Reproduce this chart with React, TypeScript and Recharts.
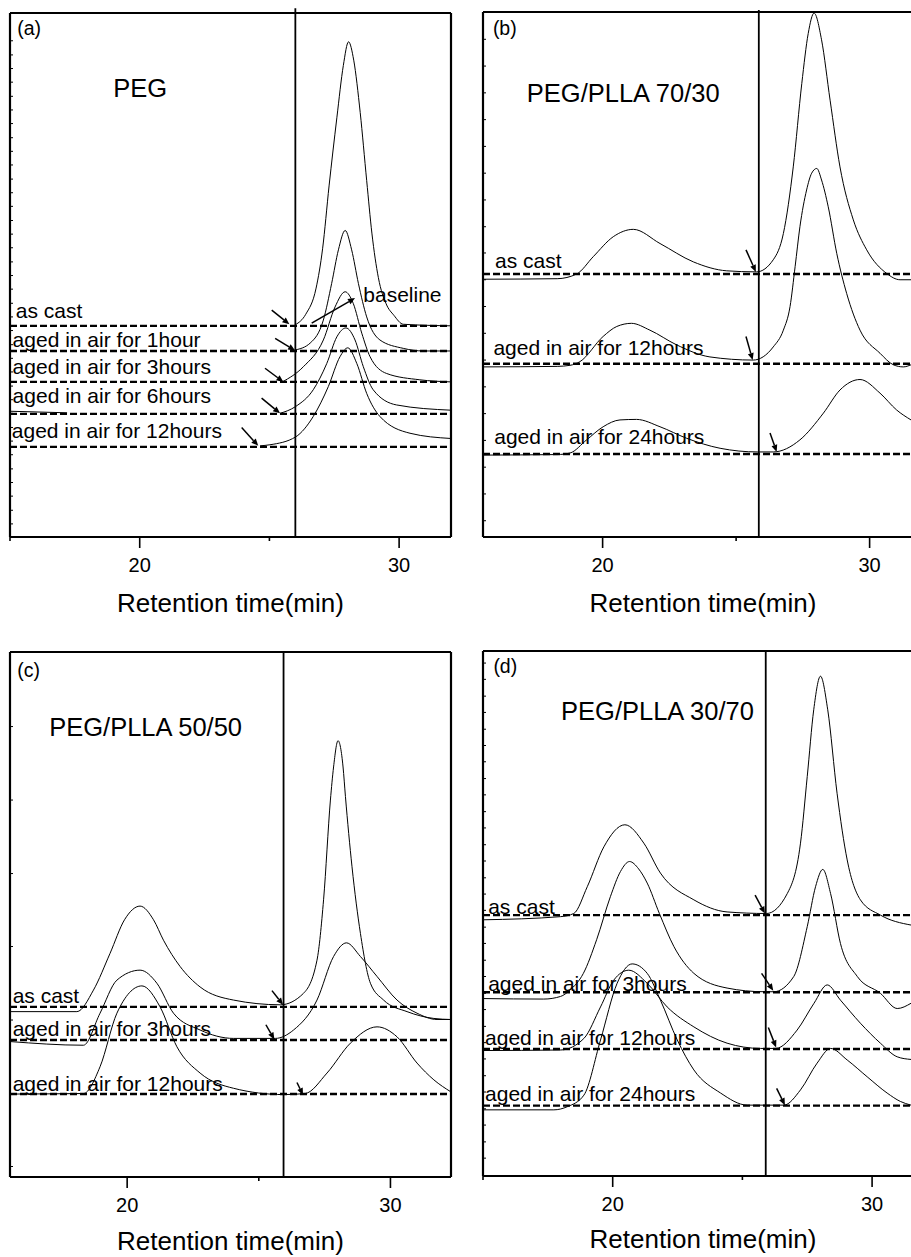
import React from 'react';
import { LineChart, Line, XAxis, YAxis, ReferenceLine, ReferenceDot } from 'recharts';

const FONT = '"Liberation Sans", Arial, Helvetica, sans-serif';

// ---------- Panel (a) PEG ----------
const aAsCast = [[26.0,40.5],[26.4,42.5],[26.8,47.5],[27.05,55],[27.3,67],[27.6,80],[27.85,90],[28.05,94.5],[28.25,91],[28.5,81],[28.75,68],[28.95,58],[29.2,49.5],[29.5,44.5],[29.8,42.3],[30.16,40.6],[32,40.3]];
const aOneHour = [[26.0,35.7],[26.57,37.0],[27.08,41.4],[27.4,48.4],[27.66,54.8],[27.92,58.5],[28.17,54.8],[28.43,48.4],[28.75,42.0],[29.26,37.6],[30.16,36.0],[30.93,35.5],[32,35.5]];
const aThreeHours = [[25.5,29.6],[26.31,32.5],[27.08,37.6],[27.53,43.9],[27.92,46.8],[28.23,44.6],[28.56,38.9],[28.88,34.4],[29.52,31.2],[30.8,30.0],[32,29.6]];
const aSixHours = [[25.41,23.6],[26.01,24.9],[26.69,28.1],[27.21,33.1],[27.6,38.2],[27.95,39.9],[28.3,37.6],[28.62,32.5],[29.0,28.1],[29.9,25.2],[32,24.2]];
const aSixHoursStart = [[15,24.0],[17.2,23.7]];
const aTwelveHours = [[24.64,17.4],[25.02,17.6],[26.01,19.1],[26.69,23.0],[27.27,28.7],[27.72,34.4],[28.02,36.1],[28.37,33.1],[28.75,27.4],[29.26,23.0],[30.42,19.8],[32,18.8]];
const aBaselines = [40.3, 35.5, 29.6, 23.5, 17.2];
const aArrows = [[25.09,43.3,25.77,40.6],[25.22,37.9,25.99,35.6],[24.83,32.2,25.54,29.6],[24.7,26.5,25.41,23.6],[23.93,20.9,24.57,17.4],[26.63,40.8,28.3,45.6]];
const aLabels: [number, number, string][] = [[15.22,41.8,'as cast'],[15.1,36.3,'aged in air for 1hour'],[15.1,31.1,'aged in air for 3hours'],[15.1,25.6,'aged in air for 6hours'],[15.07,18.8,'aged in air for 12hours'],[28.62,44.9,'baseline']];
const aTag: [number, number, string] = [15.28,95.8,'(a)'];
const aName: [number, number, string] = [18.98,84.0,'PEG'];
const aYTicks = [2.5,5.1,7.8,10.4,13.0,15.7,18.3,20.9,23.6,26.2,28.8,31.5,34.1,36.7,39.4,42.0,44.6,47.3,49.9,52.5,55.2,57.8,60.4,63.1,65.7,68.3,71.0,73.6,76.2,78.9,81.5,84.1,86.8,89.4,92.0,94.7];

// ---------- Panel (b) PEG/PLLA 70/30 ----------
const bAsCast = [[15.52,49.1],[18.3,49.2],[19.03,50.1],[19.65,53.4],[20.4,57.2],[21.15,58.6],[22.15,55.9],[23.4,52.4],[24.65,50.7],[25.77,50.5],[26.39,52.8],[26.77,57.8],[27.14,70.5],[27.46,86.4],[27.7,95.9],[27.92,99.8],[28.2,94.7],[28.52,83.2],[28.89,70.5],[29.39,60.4],[29.89,54.7],[30.64,50.2],[31.14,49.0],[31.55,49.0]];
const bTwelveHours = [[15.52,32.4],[18.3,32.5],[18.78,32.7],[19.15,33.4],[20.02,38.2],[20.53,40.1],[21.08,40.7],[21.77,39.4],[22.77,36.6],[24.02,34.3],[25.64,33.7],[26.39,36.2],[26.77,39.4],[27.02,43.9],[27.21,51.5],[27.39,59.1],[27.64,66.1],[27.83,69.3],[28.02,70.2],[28.2,68.0],[28.45,62.9],[28.77,54.0],[29.14,46.4],[29.64,39.4],[30.39,35.0],[30.89,32.8],[31.26,32.4],[31.55,32.8]];
const bTwentyFourHours = [[15.52,15.6],[18.3,15.7],[18.78,16.0],[19.4,18.5],[20.02,21.0],[20.65,22.3],[21.27,22.4],[22.15,21.0],[23.15,18.8],[24.4,16.9],[25.81,16.2],[26.39,16.2],[27.39,18.5],[28.27,23.6],[28.89,28.0],[29.64,30.0],[30.39,27.4],[31.01,24.2],[31.55,22.3]];
const bBaselines = [50.1, 33.0, 15.8];
const bArrows = [[25.37,54.7,25.74,50.5],[25.37,38.2,25.62,33.7],[26.27,19.8,26.52,16.2]];
const bLabels: [number, number, string][] = [[15.97,51.2,'as cast'],[15.91,34.7,'aged in air for 12hours'],[15.94,17.8,'aged in air for 24hours']];
const bTag: [number, number, string] = [15.89,95.6,'(b)'];
const bName: [number, number, string] = [17.16,82.9,'PEG/PLLA 70/30'];
const bYTicks = [3.1,8.2,13.3,18.4,23.5,28.6,33.7,38.8,43.9,49.0,54.1,59.1,64.2,69.3,74.4,79.5,84.6,89.7,94.8];

// ---------- Panel (c) PEG/PLLA 50/50 ----------
const cAsCast = [[15.55,31.5],[18.09,31.5],[18.72,35.6],[19.35,42.6],[19.9,49.0],[20.49,51.6],[21.0,49.0],[21.38,45.1],[22.01,40.1],[22.77,36.2],[24.04,33.7],[25.82,32.8],[26.7,35.0],[27.21,41.3],[27.46,52.8],[27.72,71.8],[27.84,78.1],[28.01,83.1],[28.2,78.1],[28.29,72.5],[28.54,59.1],[28.86,46.4],[29.24,36.9],[29.74,33.7],[30.63,31.5],[31.65,30.2],[32.3,30.0]];
const cThreeHours = [[15.55,25.8],[18.34,25.1],[18.97,31.2],[19.61,37.5],[20.49,39.4],[21.13,36.9],[21.76,31.2],[22.77,28.0],[24.04,26.4],[25.63,26.4],[26.32,28.0],[27.21,33.7],[27.84,42.0],[28.33,44.6],[28.86,42.0],[29.49,38.2],[30.25,33.7],[31.01,31.2],[31.77,30.0],[32.3,30.0]];
const cTwelveHours = [[15.55,15.8],[18.34,15.9],[18.97,21.0],[19.61,31.2],[20.56,36.4],[21.25,32.4],[21.89,24.8],[22.77,19.8],[24.04,16.9],[25.94,15.7],[26.76,15.9],[27.59,19.8],[28.48,25.5],[29.49,28.6],[30.25,26.7],[31.01,21.7],[31.65,18.5],[32.3,16.2]];
const cBaselines = [32.4, 26.1, 15.8];
const cArrows = [[25.5,35.5,25.92,32.8],[25.27,29.0,25.59,26.2],[26.45,18.0,26.68,15.6]];
const cLabels: [number, number, string][] = [[15.65,33.1,'as cast'],[15.65,26.9,'aged in air for 3hours'],[15.65,16.4,'aged in air for 12hours']];
const cTag: [number, number, string] = [15.83,95.3,'(c)'];
const cName: [number, number, string] = [17.04,84.0,'PEG/PLLA 50/50'];
const cYTicks = [2.0,15.9,29.9,43.9,57.8,71.8,85.8];

// ---------- Panel (d) PEG/PLLA 30/70 ----------
const dAsCast = [[15,48.8],[17.99,49.4],[18.5,50.0],[19.02,55.1],[19.66,62.7],[20.47,66.9],[21.2,63.4],[21.84,57.7],[23.13,52.6],[24.41,50.3],[25.93,50.0],[26.73,53.8],[27.24,63.4],[27.5,76.1],[27.75,88.8],[28.01,95.2],[28.29,88.8],[28.65,72.9],[29.04,60.2],[29.55,52.6],[30.32,49.7],[31.5,47.8]];
const dThreeHours = [[15,33.8],[17.34,33.7],[17.99,34.2],[18.35,35.4],[18.87,38.6],[19.38,45.0],[19.91,53.2],[20.3,58.0],[20.65,59.9],[21.0,58.5],[21.33,55.8],[21.8,50.0],[22.36,43.7],[23.13,38.6],[24.41,35.8],[25.83,35.1],[26.21,35.1],[26.98,38.0],[27.5,47.5],[27.82,55.1],[28.1,58.4],[28.4,53.8],[28.78,44.3],[29.43,38.0],[30.32,34.8],[30.97,31.9],[31.5,32.9]];
const dTwelveHours = [[15,23.9],[17.99,24.0],[18.89,26.2],[19.53,32.2],[20.04,37.3],[20.62,39.2],[21.33,36.7],[22.1,32.2],[23.13,28.4],[24.41,25.3],[25.7,24.3],[26.28,24.3],[27.11,27.8],[27.76,32.9],[28.27,36.4],[28.78,33.5],[29.55,29.1],[30.32,25.3],[30.97,22.7],[31.5,22.2]];
const dTwentyFourHours = [[15,12.6],[17.73,12.6],[18.25,13.2],[18.89,15.4],[19.53,25.9],[20.17,36.7],[20.75,40.4],[21.33,38.6],[21.84,33.5],[22.49,25.9],[23.13,20.2],[24.16,15.8],[25.19,13.5],[26.6,13.5],[27.24,16.4],[27.88,21.5],[28.4,24.3],[29.04,22.1],[29.81,18.9],[30.58,15.8],[31.09,14.2],[31.5,13.5]];
const dBaselines = [49.7, 35.0, 24.2, 13.4];
const dArrows = [[25.49,53.5,25.87,50.0],[25.74,38.6,26.19,35.3],[26.0,28.3,26.3,24.5],[26.32,16.7,26.64,13.5]];
const dLabels: [number, number, string][] = [[15.2,50.0,'as cast'],[15.2,35.3,'aged in air for 3hours'],[15.08,25.0,'aged in air for 12hours'],[15.08,14.2,'aged in air for 24hours']];
const dTag: [number, number, string] = [15.4,95.8,'(d)'];
const dName: [number, number, string] = [18.01,86.9,'PEG/PLLA 30/70'];
const dYTicks = [3.4,6.5,9.7,12.8,16.0,19.1,22.3,25.4,28.5,31.7,34.8,38.0,41.1,44.3,47.4,50.6,53.7,56.8,60.0,63.1,66.3,69.4,72.6,75.7,78.9,82.0,85.1,88.3,91.4,94.6,97.7];

const xTitle = 'Retention time(min)';

const toPts = (arr: number[][]) => arr.map(([t, v]) => ({ t, v }));

const renderArrow = (lp: any) => {
  const { x1, y1, x2, y2 } = lp;
  const dx = x2 - x1, dy = y2 - y1;
  const L = Math.hypot(dx, dy) || 1;
  const ux = dx / L, uy = dy / L;
  const hl = 7, hw = 3;
  const bx = x2 - ux * hl, by = y2 - uy * hl;
  return (
    <g>
      <line x1={x1} y1={y1} x2={bx} y2={by} stroke="#000" strokeWidth={1.5} />
      <polygon points={`${x2},${y2} ${bx - uy * hw},${by + ux * hw} ${bx + uy * hw},${by - ux * hw}`} fill="#000" />
    </g>
  );
};

const textShape = (text: string, size: number) => (dp: any) => (
  <text x={dp.cx} y={dp.cy} fontSize={size} fontFamily={FONT} fill="#000">{text}</text>
);

const frameLine = (lp: any) => (
  <line x1={lp.x1} y1={lp.y1} x2={lp.x2} y2={lp.y2} stroke="#000" strokeWidth={2.2} />
);

const dashLine = (lp: any) => (
  <line x1={lp.x1} y1={lp.y1} x2={lp.x2} y2={lp.y2} stroke="#000" strokeWidth={2.4} strokeDasharray="7 3" />
);

const vLine = (lp: any) => (
  <line x1={lp.x1} y1={lp.y1} x2={lp.x2} y2={lp.y2} stroke="#000" strokeWidth={1.8} />
);

const makeYTick = (x0: number) => (tp: any) => (
  <line x1={x0} x2={x0 + 3} y1={tp.y} y2={tp.y} stroke="#000" strokeWidth={1} />
);

const makeXTick = (majors: number[]) => (tp: any) => {
  const major = majors.includes(tp.payload.value);
  return (
    <g>
      <line x1={tp.x} x2={tp.x} y1={tp.y} y2={tp.y + (major ? 11 : 4)} stroke="#000" strokeWidth={1.6} />
      {major && (
        <text x={tp.x} y={tp.y + 35} textAnchor="middle" fontSize={20} fontFamily={FONT} fill="#000">{tp.payload.value}</text>
      )}
    </g>
  );
};

const makeTitle = (off: number, dx: number) => (lp: any) => {
  const vb = lp.viewBox || {};
  return (
    <text x={vb.x + vb.width / 2 + dx} y={vb.y + vb.height - off} textAnchor="middle" fontSize={26} fontFamily={FONT} fill="#000">{xTitle}</text>
  );
};

type PanelProps = {
  left: number; top: number; width: number; height: number;
  mTop: number; mLeft: number; mRight: number;
  axisH: number; titleOff: number; titleDx: number;
  domain: [number, number]; xTicks: number[]; xMajor: number[]; yTicks: number[];
  curves: number[][][]; baselines: number[]; vline: number; vlineTop: number;
  arrows: number[][]; labels: [number, number, string][];
  tag: [number, number, string]; name: [number, number, string]; frameRight: boolean;
};

function Panel(p: PanelProps) {
  const [x0, x1] = p.domain;
  return (
    <div style={{ position: 'absolute', left: p.left, top: p.top, width: p.width, height: p.height }}>
      <LineChart width={p.width} height={p.height} margin={{ top: p.mTop, left: p.mLeft, right: p.mRight, bottom: 0 }}>
        <XAxis type="number" dataKey="t" domain={p.domain} allowDataOverflow ticks={p.xTicks} interval={0}
          height={p.axisH} tickSize={0} tickMargin={0} tickLine={false} axisLine={{ stroke: '#000', strokeWidth: 2.2 }}
          tick={makeXTick(p.xMajor)} label={{ content: makeTitle(p.titleOff, p.titleDx) }} />
        <YAxis type="number" domain={[0, 100]} allowDataOverflow width={1} ticks={p.yTicks} interval={0}
          tickSize={0} tickMargin={0} tickLine={false} axisLine={false} tick={makeYTick(p.mLeft + 1)} />
        <ReferenceLine segment={[{ x: x0, y: 0 }, { x: x0, y: 100 }]} ifOverflow="visible" shape={frameLine} />
        <ReferenceLine segment={[{ x: x0, y: 100 }, { x: x1, y: 100 }]} ifOverflow="visible" shape={frameLine} />
        {p.frameRight && (
          <ReferenceLine segment={[{ x: x1, y: 0 }, { x: x1, y: 100 }]} ifOverflow="visible" shape={frameLine} />
        )}
        {p.baselines.map((b, i) => (
          <ReferenceLine key={'b' + i} segment={[{ x: x0, y: b }, { x: x1, y: b }]} ifOverflow="visible" shape={dashLine} />
        ))}
        <ReferenceLine segment={[{ x: p.vline, y: 0 }, { x: p.vline, y: p.vlineTop }]} ifOverflow="visible" shape={vLine} />
        {p.curves.map((c, i) => (
          <Line key={'c' + i} data={toPts(c)} dataKey="v" type="monotone" stroke="#000" strokeWidth={1}
            dot={false} activeDot={false} isAnimationActive={false} />
        ))}
        {p.arrows.map((a, i) => (
          <ReferenceLine key={'a' + i} segment={[{ x: a[0], y: a[1] }, { x: a[2], y: a[3] }]} ifOverflow="visible" shape={renderArrow} />
        ))}
        {p.labels.map((l, i) => (
          <ReferenceDot key={'l' + i} x={l[0]} y={l[1]} r={0} ifOverflow="visible" shape={textShape(l[2], 21)} />
        ))}
        <ReferenceDot x={p.tag[0]} y={p.tag[1]} r={0} ifOverflow="visible" shape={textShape(p.tag[2], 19.5)} />
        <ReferenceDot x={p.name[0]} y={p.name[1]} r={0} ifOverflow="visible" shape={textShape(p.name[2], 25.5)} />
      </LineChart>
    </div>
  );
}

export default function App() {
  return (
    <div style={{ position: 'absolute', left: 0, top: 0, width: 911, height: 1257, background: '#fff', overflow: 'hidden' }}>
      <Panel left={0} top={0} width={460} height={630} mTop={13} mLeft={9} mRight={9}
        axisH={93} titleOff={18.3} titleDx={0} domain={[15, 32]} xTicks={[15, 20, 25, 30]} xMajor={[20, 30]} yTicks={aYTicks}
        curves={[aAsCast, aOneHour, aThreeHours, aSixHours, aSixHoursStart, aTwelveHours]} baselines={aBaselines}
        vline={26.0} vlineTop={100.9} arrows={aArrows} labels={aLabels} tag={aTag} name={aName} frameRight={true} />
      <Panel left={460} top={0} width={451} height={630} mTop={12} mLeft={22} mRight={0}
        axisH={93} titleOff={18.3} titleDx={6} domain={[15.52, 31.55]} xTicks={[20, 25, 30]} xMajor={[20, 30]} yTicks={bYTicks}
        curves={[bAsCast, bTwelveHours, bTwentyFourHours]} baselines={bBaselines}
        vline={25.85} vlineTop={100.4} arrows={bArrows} labels={bLabels} tag={bTag} name={bName} frameRight={false} />
      <Panel left={0} top={630} width={460} height={627} mTop={22} mLeft={9} mRight={9}
        axisH={80} titleOff={7} titleDx={0} domain={[15.55, 32.3]} xTicks={[20, 25, 30]} xMajor={[20, 30]} yTicks={cYTicks}
        curves={[cAsCast, cThreeHours, cTwelveHours]} baselines={cBaselines}
        vline={25.94} vlineTop={100} arrows={cArrows} labels={cLabels} tag={cTag} name={cName} frameRight={true} />
      <Panel left={460} top={630} width={451} height={627} mTop={21} mLeft={22} mRight={0}
        axisH={81} titleOff={9} titleDx={6} domain={[15, 31.5]} xTicks={[15, 20, 25, 30]} xMajor={[20, 30]} yTicks={dYTicks}
        curves={[dAsCast, dThreeHours, dTwelveHours, dTwentyFourHours]} baselines={dBaselines}
        vline={25.9} vlineTop={100} arrows={dArrows} labels={dLabels} tag={dTag} name={dName} frameRight={false} />
    </div>
  );
}
